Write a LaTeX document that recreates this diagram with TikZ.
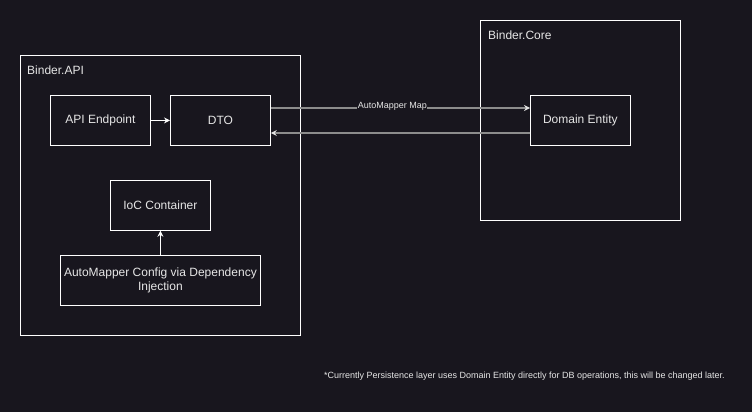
\documentclass[tikz,border=0pt]{standalone}
\usepackage{fontspec}
\setmainfont{Liberation Sans}
\usetikzlibrary{arrows.meta}
\definecolor{bg}{HTML}{18161E}
\definecolor{txt}{HTML}{E6E6E6}
\definecolor{conn}{HTML}{8C8C8C}
\definecolor{tipc}{HTML}{E0E0E0}
\begin{document}
\begin{tikzpicture}[x=1pt,y=-1pt,
  frame/.style={draw=white,line width=0.8pt},
  boxnode/.style={draw=white,line width=0.8pt,minimum width=100pt,minimum height=50pt,inner sep=0pt,text=txt,font=\fontsize{12}{14}\selectfont,anchor=north west,align=center},
  grouplabel/.style={text=txt,font=\fontsize{12}{14}\selectfont,anchor=west,inner sep=0pt},
  whitearrow/.style={draw=white,line width=0.8pt,-{Stealth[length=6pt,width=6pt,inset=2pt]}},
  grayarrow/.style={draw=conn,line width=1.2pt,-{Stealth[length=6pt,width=6pt,inset=2pt,color=tipc]}}
]
\useasboundingbox[fill=bg] (0,0) rectangle (752,412);
% groups
\draw[frame] (20,55) rectangle (300,335);
\node[grouplabel] (apilabel) at (27,70) {Binder.API};
\draw[frame] (480,20) rectangle (680,220);
\node[grouplabel] (corelabel) at (488,35) {Binder.Core};
% boxes
\node[boxnode] (ep) at (50,95) {API Endpoint};
\node[boxnode] (dto) at (170,95) {DTO};
\node[boxnode] (ioc) at (110,180) {IoC Container};
\node[boxnode,minimum width=200pt] (cfg) at (60,255) {AutoMapper Config via Dependency\\Injection};
\node[boxnode] (dom) at (530,95) {Domain Entity};
% connectors
\draw[whitearrow] (ep.east) -- (dto.west);
\draw[whitearrow] (cfg.north) -- (ioc.south);
\draw[grayarrow] (dto.east|-0,108) -- node[fill=bg,inner sep=0.5pt,text=txt,font=\fontsize{9}{10}\selectfont,yshift=2pt,xshift=-8pt] (maplabel) {AutoMapper Map} (dom.west|-0,108);
\draw[grayarrow] (dom.west|-0,133) -- (dto.east|-0,133);
% footnote
\node[anchor=east,text=txt,font=\fontsize{9}{10}\selectfont,inner sep=0pt] (note) at (725,376) {*Currently Persistence layer uses Domain Entity directly for DB operations, this will be changed later.};
\end{tikzpicture}
\end{document}
